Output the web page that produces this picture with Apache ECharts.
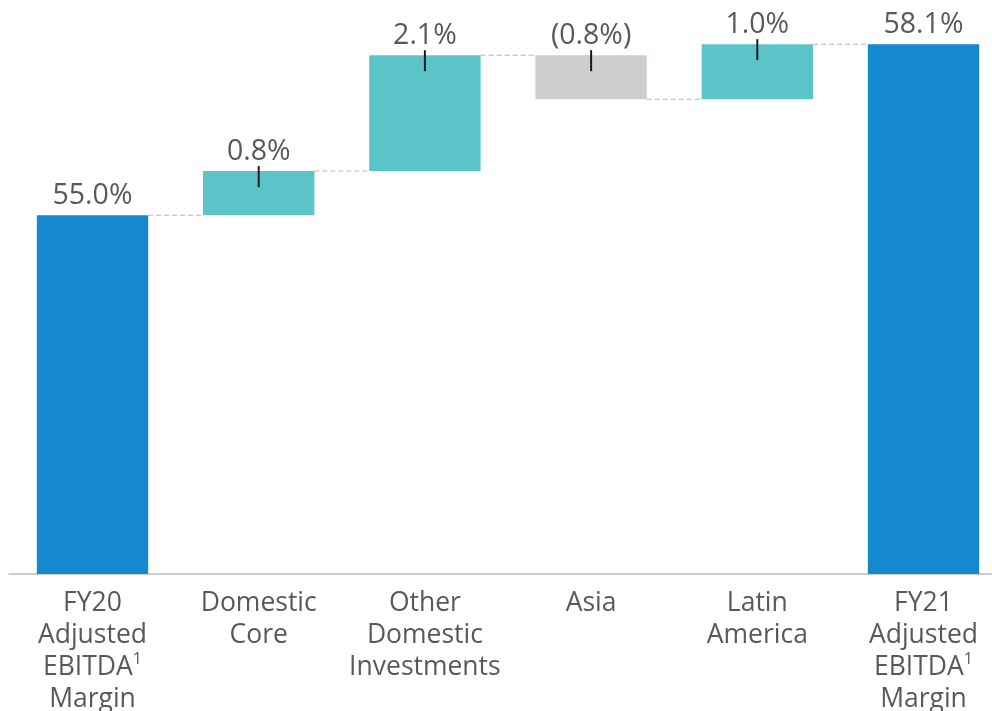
<!DOCTYPE html>
<html><head><meta charset="utf-8">
<script src="https://cdn.jsdelivr.net/npm/echarts@6/dist/echarts.min.js"></script>
<style>html,body{margin:0;padding:0;background:#fff}#chart{width:992px;height:711px}</style>
</head><body><div id="chart"></div>
<script>
// Bridge of adjusted EBITDA margin, FY20 -> FY21 (percent)
const categories = ['FY20\nAdjusted\nEBITDA\nMargin', 'Domestic\nCore', 'Other\nDomestic\nInvestments', 'Asia', 'Latin\nAmerica', 'FY21\nAdjusted\nEBITDA\nMargin'];
const kinds = ['total', 'delta', 'delta', 'delta', 'delta', 'total'];
const values = [55.0, 0.8, 2.1, -0.8, 1.0, 58.1];
const footnoteWord = 'EBITDA';
const footnoteMark = '1';

const Y_MIN = 48.5, Y_MAX = 58.9;
const COLORS = { total: '#1589CE', up: '#5BC4C9', down: '#CFCDCE' };
const TEXT = '#595959';
const FONT = '"Open Sans", "Noto Sans", sans-serif';

// Build [index, low, high, end, change] rows for the waterfall
let running = 0;
const rows = values.map((v, i) => {
  if (kinds[i] === 'total') { running = v; return [i, 0, v, v, v]; }
  const start = running; running = +(running + v).toFixed(4);
  return [i, Math.min(start, running), Math.max(start, running), running, v];
});

function fmt(v) {
  const s = Math.abs(v).toFixed(1) + '%';
  return v < 0 ? '(' + s + ')' : s;
}

const chart = echarts.init(document.getElementById('chart'), null, { renderer: 'canvas' });
chart.setOption({
  animation: false,
  grid: { left: 9.4, width: 997.2, top: 0, bottom: 137, containLabel: false, outerBoundsMode: 'none' },
  xAxis: {
    type: 'category', data: categories, boundaryGap: true,
    axisLine: { show: true, lineStyle: { color: '#CCCCCC', width: 2 } },
    axisTick: { show: false },
    axisLabel: {
      interval: 0, margin: 13, color: TEXT, fontFamily: FONT, fontSize: 26.5, lineHeight: 32,
      formatter: v => v.replace(footnoteWord, footnoteWord + '{sup|' + footnoteMark + '}'),
      rich: { sup: { fontSize: 16, fontFamily: FONT, color: TEXT, verticalAlign: 'top', lineHeight: 22 } }
    }
  },
  yAxis: { type: 'value', min: Y_MIN, max: Y_MAX, show: false, splitLine: { show: false } },
  series: [{
    type: 'custom',
    data: rows,
    encode: { x: 0, y: [1, 2] },
    renderItem(params, api) {
      const i = api.value(0), lo = api.value(1), hi = api.value(2), end = api.value(3), v = api.value(4);
      const cs = params.coordSys;
      const bottom = cs.y + cs.height;
      const step = api.size([1, 0])[0];
      const bw = step * 0.67;
      const top = api.coord([i, hi]);
      const cx = top[0];
      const yBot = Math.min(api.coord([i, lo])[1], bottom);
      const kind = kinds[i] === 'total' ? 'total' : (v < 0 ? 'down' : 'up');
      const children = [{
        type: 'rect',
        shape: { x: cx - bw / 2, y: top[1], width: bw, height: yBot - top[1] },
        style: { fill: COLORS[kind] }
      }];
      if (i < rows.length - 1) {
        const yl = api.coord([i, end])[1];
        children.push({
          type: 'line',
          shape: { x1: cx + bw / 2, y1: yl, x2: cx + step - bw / 2, y2: yl },
          style: { stroke: '#CFCFCF', lineWidth: 1.5, lineDash: [5, 3] }
        });
      }
      if (kind !== 'total') {
        children.push({
          type: 'line',
          shape: { x1: cx, y1: top[1] - 5, x2: cx, y2: top[1] + 16 },
          style: { stroke: '#1A1A1A', lineWidth: 2 }
        });
      }
      children.push({
        type: 'text',
        style: {
          x: cx, y: top[1] - 5, text: fmt(v), align: 'center', verticalAlign: 'bottom',
          fill: TEXT, fontSize: 28.5, fontFamily: FONT
        }
      });
      return { type: 'group', children };
    }
  }]
});
</script>
</body></html>
